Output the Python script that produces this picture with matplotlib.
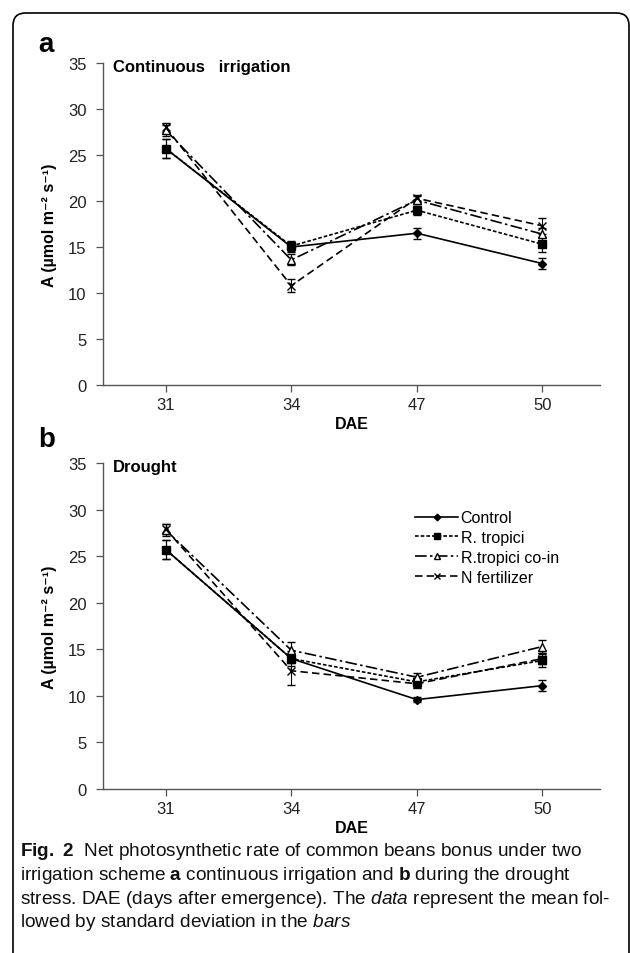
import numpy as np
import matplotlib
matplotlib.use("Agg")
import matplotlib.pyplot as plt
from matplotlib.patches import FancyBboxPatch
from matplotlib.lines import Line2D

plt.rcParams['font.family'] = ['Liberation Sans', 'DejaVu Sans']
plt.rcParams['mathtext.fontset'] = 'custom'
plt.rcParams['mathtext.rm'] = 'Liberation Sans'
plt.rcParams['mathtext.bf'] = 'Liberation Sans:bold'
plt.rcParams['mathtext.it'] = 'Liberation Sans:italic'

# data
dae = ['31', '34', '47', '50']
series = ['Control', 'R. tropici', 'R.tropici co-in', 'N fertilizer']

irr_control = [25.7, 15.0, 16.5, 13.2]
irr_control_sd = [1.0, 0.5, 0.6, 0.6]
irr_tropici = [25.7, 15.1, 19.0, 15.3]
irr_tropici_sd = [1.0, 0.5, 0.5, 0.8]
irr_coin = [27.7, 13.6, 20.1, 16.4]
irr_coin_sd = [0.6, 0.6, 0.4, 0.7]
irr_nfert = [28.0, 10.8, 20.3, 17.3]
irr_nfert_sd = [0.5, 0.7, 0.4, 0.9]

dro_control = [25.7, 14.0, 9.6, 11.1]
dro_control_sd = [1.0, 0.5, 0.3, 0.6]
dro_tropici = [25.7, 14.0, 11.5, 13.8]
dro_tropici_sd = [1.0, 0.8, 0.6, 0.7]
dro_coin = [27.8, 14.9, 12.0, 15.3]
dro_coin_sd = [0.6, 0.9, 0.5, 0.7]
dro_nfert = [27.9, 12.7, 11.3, 14.0]
dro_nfert_sd = [0.5, 1.5, 0.5, 0.6]

styles = [
    dict(ls='-', marker='D', ms=4.5, mfc='black'),
    dict(ls=(0, (2.2, 1.2)), marker='s', ms=6, mfc='black'),
    dict(ls=(0, (7, 2, 1.5, 2)), marker='^', ms=6, mfc='white'),
    dict(ls=(0, (4.5, 2.5)), marker='x', ms=6, mfc='black'),
]

fig = plt.figure(figsize=(6.3, 9.54), dpi=100)

# rounded frame around figure + caption
frame = FancyBboxPatch((13 / 630, -0.02), (629 - 13) / 630, 1.02 - 14 / 954,
                       boxstyle="round,pad=0,rounding_size=0.02",
                       transform=fig.transFigure, fill=False,
                       ec='black', lw=1.2, mutation_aspect=630 / 954)
fig.patches.append(frame)

ax1 = fig.add_axes([0.1635, 0.5954, 0.789, 0.3375])
ax2 = fig.add_axes([0.1635, 0.1719, 0.789, 0.3417])

x = np.arange(len(dae))


def draw(ax, vals, sds, title):
    for v, s, st in zip(vals, sds, styles):
        ax.errorbar(x, v, yerr=s, color='black', lw=1.2, capsize=3,
                    elinewidth=0.8, capthick=0.8, mec='black', mew=1.0,
                    **st)
    ax.set_xlim(-0.5, 3.46)
    ax.set_ylim(0, 35)
    ax.set_yticks(range(0, 36, 5))
    ax.set_xticks(x)
    ax.set_xticklabels(dae)
    for sp in ['top', 'right']:
        ax.spines[sp].set_visible(False)
    for sp in ['left', 'bottom']:
        ax.spines[sp].set_color('#555555')
        ax.spines[sp].set_linewidth(1.0)
    ax.tick_params(axis='both', direction='out', length=5, width=0.9,
                   color='#555555', labelsize=12, labelcolor='#222222')
    ax.tick_params(axis='y', pad=7)
    ax.set_xlabel('DAE', fontsize=11.5, fontweight='bold', labelpad=3)
    ax.set_ylabel('A (µmol m⁻² s⁻¹)', fontsize=11.5, fontweight='bold',
                  labelpad=8)
    ax.text(0.02, 0.99, title, transform=ax.transAxes, fontsize=12,
            fontweight='bold', va='center', ha='left')


draw(ax1, [irr_control, irr_tropici, irr_coin, irr_nfert],
     [irr_control_sd, irr_tropici_sd, irr_coin_sd, irr_nfert_sd],
     'Continuous   irrigation')
draw(ax2, [dro_control, dro_tropici, dro_coin, dro_nfert],
     [dro_control_sd, dro_tropici_sd, dro_coin_sd, dro_nfert_sd],
     'Drought')

handles = [Line2D([], [], color='black', lw=1.2, mec='black',
                  **dict(st, ms=st['ms'] * 0.75)) for st in styles]
ax2.legend(handles, series, loc='upper left', bbox_to_anchor=(0.628, 0.855),
           frameon=False, fontsize=11.5, handlelength=2.7,
           handletextpad=0.15, labelspacing=0.3, borderaxespad=0,
           borderpad=0)

fig.text(38 / 630, 1 - 45 / 954, 'a', fontsize=20, fontweight='bold',
         va='center', ha='left')
fig.text(38 / 630, 1 - 440 / 954, 'b', fontsize=20, fontweight='bold',
         va='center', ha='left')

caption = [
    r'$\mathbf{Fig.\ 2}$  Net photosynthetic rate of common beans bonus under two',
    r'irrigation scheme $\mathbf{a}$ continuous irrigation and $\mathbf{b}$ during the drought',
    r'stress. DAE (days after emergence). The $\mathit{data}$ represent the mean fol-',
    r'lowed by standard deviation in the $\mathit{bars}$',
]
for i, line in enumerate(caption):
    fig.text(20 / 630, 1 - (852 + i * 23.5) / 954, line, fontsize=13.7,
             va='center', ha='left', color='#111111')

plt.savefig('out.png', dpi=100)
